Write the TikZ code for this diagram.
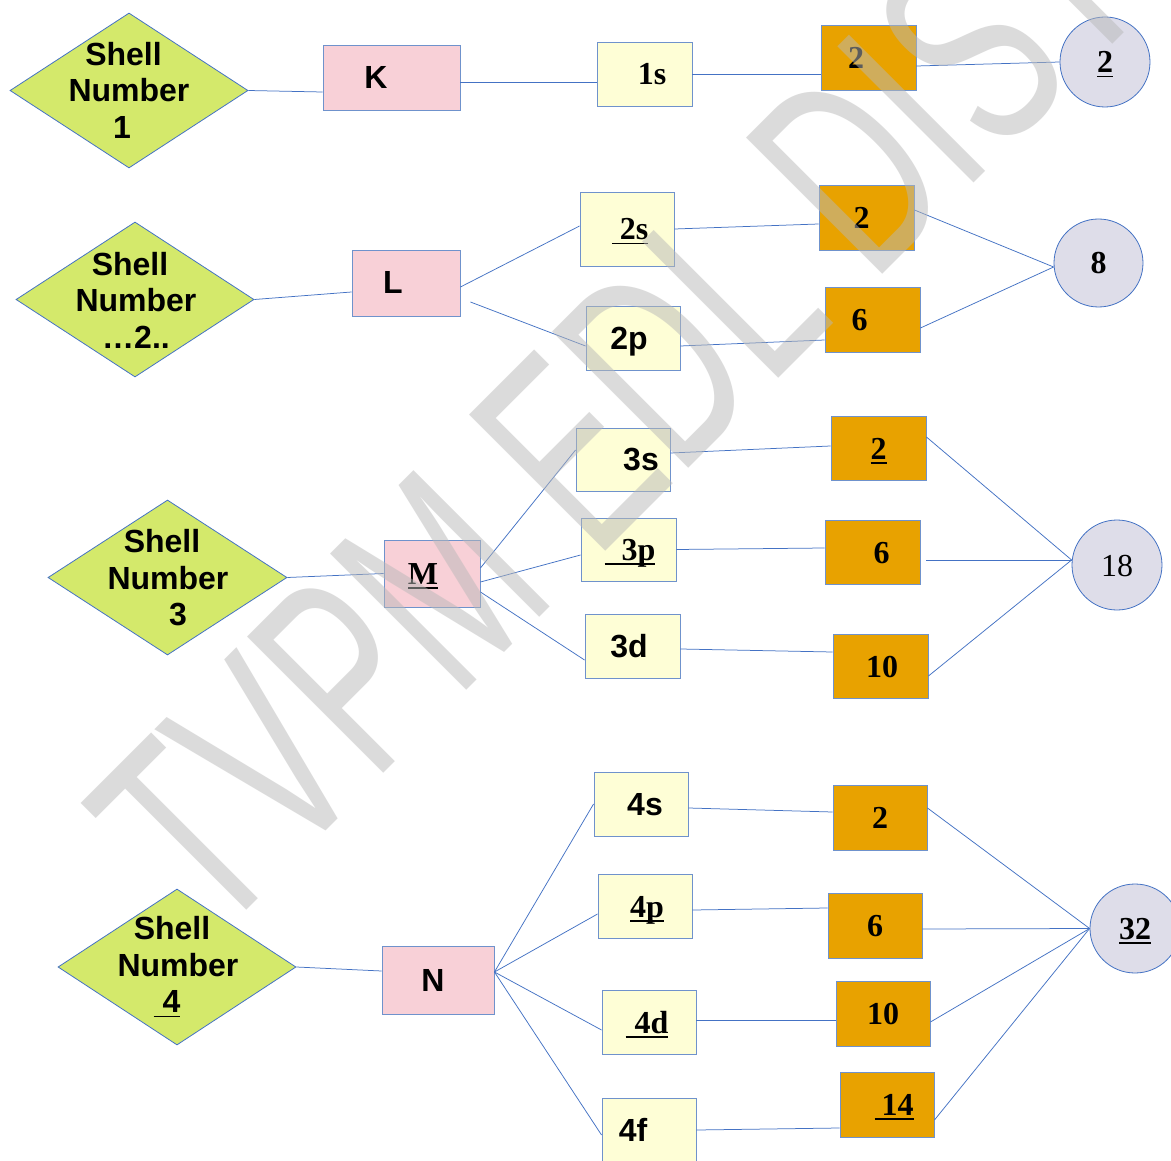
\documentclass[tikz,border=0pt]{standalone}
\usepackage{fontspec}
\setmainfont{Liberation Serif}
\setsansfont{Liberation Sans}
\newfontfamily\wmfont{Liberation Sans}[BoldFont={Liberation Sans Bold}]
\usetikzlibrary{shapes.geometric}
\definecolor{lineblue}{HTML}{4472C4}
\definecolor{boxblue}{HTML}{6F92CC}
\definecolor{dgreen}{HTML}{D4E96B}
\definecolor{pinkfill}{HTML}{F8D0D7}
\definecolor{yelfill}{HTML}{FEFED6}
\definecolor{orfill}{HTML}{E8A200}
\definecolor{cirfill}{HTML}{DEDDE9}
\definecolor{wmgray}{HTML}{B8B8B8}
\newcommand\sfbig{\fontsize{32}{36}\selectfont\sffamily\bfseries}
\newcommand\rmbig{\fontsize{32}{36}\selectfont\rmfamily\bfseries}
\newcommand\myul[1]{\setbox0\hbox{#1}\rlap{\rule[-4.5pt]{\wd0}{1.6pt}}\box0}
\newcommand\tail[1]{\kern#1\null}
\begin{document}
\begin{tikzpicture}[x=1pt,y=-1pt,
  shelld/.style={shape=diamond, draw=lineblue, fill=dgreen, line width=0.8pt, minimum width=238pt, minimum height=155pt, inner sep=0pt},
  shellt/.style={align=center, font=\fontsize{32}{36.5}\selectfont\sffamily\bfseries, inner sep=0pt},
  sz/.style 2 args={minimum width=#1pt, minimum height=#2pt},
  basebox/.style={rectangle, draw=boxblue, line width=0.9pt, inner sep=0pt, text height=22pt, text depth=0pt},
  pinkbox/.style={basebox, fill=pinkfill, font=\sfbig},
  ybox/.style={basebox, fill=yelfill},
  obox/.style={basebox, fill=orfill, font=\rmbig},
  cir/.style={ellipse, draw=lineblue, fill=cirfill, line width=0.8pt, inner sep=0pt, text height=22pt, text depth=0pt},
  conn/.style={draw=lineblue, line width=0.75pt}
]
\useasboundingbox (0,0) rectangle (1171,1161);
\fill[white] (0,0) rectangle (1171,1161);

% diamonds
\node[shelld] (d1) at (129,90.5) {};
\node[shelld] (d2) at (135,299.5) {};
\node[shelld, minimum width=239pt] (d3) at (167.5,577.5) {};
\node[shelld, minimum height=156pt] (d4) at (177,967) {};
\node[shellt] (d1t) at (129,90) {Shell\tail{11pt}\\Number\\1\tail{14pt}};
\node[shellt] (d2t) at (136,300) {Shell\tail{12pt}\\Number\\…2..};
\node[shellt] (d3t) at (168,578) {Shell\tail{12pt}\\Number\\\null\kern20pt 3};
\node[shellt] (d4t) at (178,967) {Shell\tail{12pt}\\Number\\\myul{\hspace{9pt}4}\tail{22pt}};

% shell letter boxes
\node[pinkbox, sz={137}{65}] (K) at (391.5,77.5) {K\tail{31pt}};
\node[pinkbox, sz={108}{66}] (L) at (406,283) {L\tail{26pt}};
\node[pinkbox, sz={96}{67}, font=\rmbig] (M) at (432,573.5) {\myul{M}\tail{18pt}};
\node[pinkbox, sz={112}{68}] (N) at (438,980) {N\tail{10pt}};

% subshell boxes
\node[ybox, sz={95}{64}, font=\rmbig] (s1) at (644.5,74) {\hspace{15pt}1s};
\node[ybox, sz={94}{74}, font=\rmbig] (s2) at (627,229) {\hspace{6pt}\myul{\hspace{8pt}2s}};
\node[ybox, sz={94}{64}, font=\sfbig] (p2) at (633,338) {2p\tail{8pt}};
\node[ybox, sz={94}{63}, font=\sfbig] (s3) at (623,459.5) {\hspace{36pt}3s};
\node[ybox, sz={95}{63}, font=\rmbig] (p3) at (628.5,549.5) {\hspace{3pt}\myul{\hspace{17pt}3p}};
\node[ybox, sz={95}{64}, font=\sfbig] (d3b) at (632.5,646) {3d\tail{7pt}};
\node[ybox, sz={94}{64}, font=\sfbig] (s4) at (641,804) {\hspace{8pt}4s};
\node[ybox, sz={94}{64}, font=\rmbig] (p4) at (645,906) {\hspace{4pt}\myul{4p}};
\node[ybox, sz={94}{64}, font=\rmbig] (d4b) at (649,1022) {\myul{\hspace{9pt}4d}\tail{4pt}};
\node[ybox, sz={94}{64}, font=\sfbig] (f4) at (649,1130) {4f\tail{32pt}};

% electron count boxes
\node[obox, sz={95}{65}] (o1) at (868.5,57.5) {2\tail{25pt}};
\node[obox, sz={95}{65}] (o21) at (866.5,217.5) {2\tail{10pt}};
\node[obox, sz={95}{65}] (o22) at (872.5,319.5) {6\tail{26pt}};
\node[obox, sz={95}{64}] (o31) at (878.5,448) {\myul{2}};
\node[obox, sz={95}{64}] (o32) at (872.5,552) {\hspace{18pt}6};
\node[obox, sz={95}{64}] (o33) at (880.5,666) {\hspace{3pt}10};
\node[obox, sz={94}{65}] (o41) at (880,817.5) {2};
\node[obox, sz={94}{65}] (o42) at (875,925.5) {6};
\node[obox, sz={94}{65}] (o43) at (883,1013.5) {10};
\node[obox, sz={94}{65}] (o44) at (887,1104.5) {\hspace{14pt}\myul{\hspace{7pt}14}};

% totals
\node[cir, minimum width=90pt, minimum height=90pt, font=\rmbig] (c1) at (1105,62) {\myul{2}};
\node[cir, minimum width=89pt, minimum height=88pt, font=\rmbig] (c2) at (1098.5,263) {8};
\node[cir, minimum width=90pt, minimum height=90pt, font=\fontsize{32}{36}\selectfont\rmfamily] (c3) at (1117,565) {18};
\node[cir, minimum width=90pt, minimum height=89pt, font=\rmbig] (c4) at (1135,928.5) {\myul{32}};

% row 1
\draw[conn] (d1.east) -- ([yshift=-14.5pt]K.west);
\draw[conn] ([yshift=-4.5pt]K.east) -- ([yshift=-8pt]s1.west);
\draw[conn] (s1.east) -- ([yshift=-16.5pt]o1.west);
\draw[conn] ([yshift=-8.5pt]o1.east) -- (c1.west);
% row 2
\draw[conn] (d2.east) -- ([yshift=-9pt]L.west);
\draw[conn] ([yshift=-4pt]L.east) -- ([yshift=3pt]s2.west);
\draw[conn] ([xshift=10pt,yshift=-19pt]L.east) -- ([yshift=-8pt]p2.west);
\draw[conn] (s2.east) -- ([yshift=-6.5pt]o21.west);
\draw[conn] ([yshift=-8pt]p2.east) -- ([yshift=-20.5pt]o22.west);
\draw[conn] ([yshift=7.5pt]o21.east) -- ([yshift=-4pt]c2.west);
\draw[conn] ([yshift=-8.5pt]o22.east) -- ([yshift=-4pt]c2.west);
% row 3
\draw[conn] (d3.east) -- (M.west);
\draw[conn] ([yshift=5.5pt]M.east) -- ([yshift=9.5pt]s3.west);
\draw[conn] ([yshift=-8.5pt]M.east) -- ([yshift=-5.5pt]p3.west);
\draw[conn] ([yshift=-18.5pt]M.east) -- ([yshift=-14pt]d3b.west);
\draw[conn] ([yshift=6.5pt]s3.east) -- ([yshift=2pt]o31.west);
\draw[conn] (p3.east) -- ([yshift=4pt]o32.west);
\draw[conn] ([yshift=-3pt]d3b.east) -- ([yshift=14pt]o33.west);
\draw[conn] ([yshift=11pt]o31.east) -- ([yshift=5pt]c3.west);
\draw[conn] ([xshift=6pt,yshift=-8pt]o32.east) -- ([yshift=5pt]c3.west);
\draw[conn] ([yshift=-10pt]o33.east) -- ([yshift=5pt]c3.west);
% row 4
\draw[conn] (d4.east) -- ([yshift=9pt]N.west);
\draw[conn] ([yshift=8pt]N.east) -- (s4.west);
\draw[conn] ([yshift=8pt]N.east) -- ([yshift=-8pt]p4.west);
\draw[conn] ([yshift=8pt]N.east) -- ([yshift=-8pt]d4b.west);
\draw[conn] ([yshift=8pt]N.east) -- ([yshift=-5pt]f4.west);
\draw[conn] ([yshift=-4pt]s4.east) -- ([yshift=5.5pt]o41.west);
\draw[conn] ([yshift=-4pt]p4.east) -- ([yshift=17.5pt]o42.west);
\draw[conn] ([yshift=2pt]d4b.east) -- ([yshift=-6.5pt]o43.west);
\draw[conn] (f4.east) -- ([yshift=-23.5pt]o44.west);
\draw[conn] ([yshift=9.5pt]o41.east) -- (c4.west);
\draw[conn] ([yshift=-3.5pt]o42.east) -- (c4.west);
\draw[conn] ([yshift=-8.5pt]o43.east) -- (c4.west);
\draw[conn] ([yshift=-15.5pt]o44.east) -- (c4.west);

% watermark
\begin{scope}
\clip (0,0) rectangle (1171,1161);
\node[anchor=base west, rotate=45, inner sep=0pt, text=wmgray, text opacity=0.5,
      font=\wmfont\fontsize{280}{280}\selectfont] (wm) at (214,943)
      {\scalebox{0.63}[1]{TVPM EDL DIST}};
\end{scope}
\end{tikzpicture}
\end{document}
